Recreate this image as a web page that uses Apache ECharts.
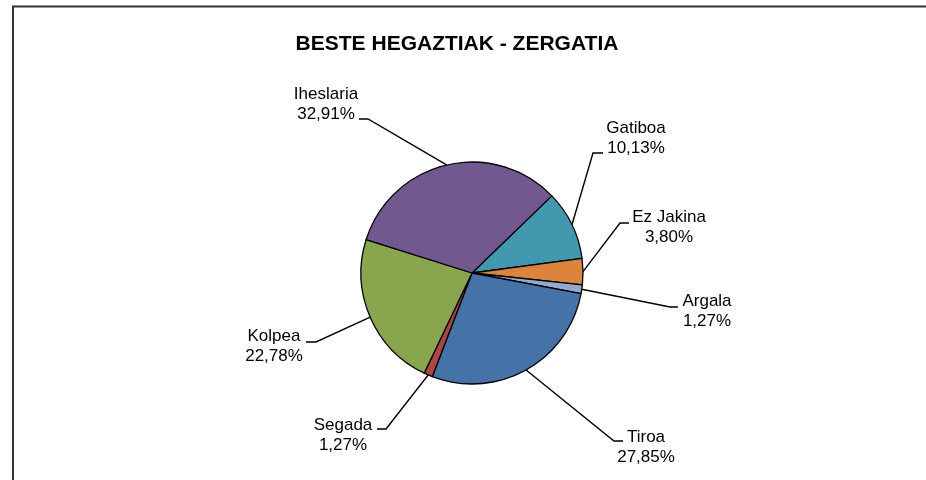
<!DOCTYPE html>
<html>
<head>
<meta charset="utf-8">
<script src="https://cdn.jsdelivr.net/npm/echarts@6/dist/echarts.min.js"></script>
<style>html,body{margin:0;padding:0;background:#fff}#c{width:926px;height:480px}</style>
</head>
<body>
<div id="c"></div>
<script>
// ---- data ----
const categories = ['Gatiboa', 'Ez Jakina', 'Argala', 'Tiroa', 'Segada', 'Kolpea', 'Iheslaria'];
const percentages = [10.13, 3.80, 1.27, 27.85, 1.27, 22.78, 32.91];
const titleText = 'BESTE HEGAZTIAK - ZERGATIA';

// ---- style ----
const colors = ['#4198AF', '#DB843D', '#93A9CF', '#4572A7', '#AA4643', '#89A54E', '#71588F'];
// label block centre and leader bend/end points (label placement only)
const labelPlace = [
  { x: 636, y: 138, bend: [593, 153], end: [603, 153] },
  { x: 669, y: 227, bend: [620, 223], end: [629, 223] },
  { x: 707, y: 311, bend: [670, 307], end: [678, 307] },
  { x: 646, y: 447, bend: [614, 441], end: [623, 441] },
  { x: 343, y: 435, bend: [386, 429], end: [377, 429] },
  { x: 274, y: 346, bend: [316, 342], end: [306, 342] },
  { x: 326, y: 104, bend: [368, 119], end: [359, 119] }
];

const chart = echarts.init(document.getElementById('c'), null, { renderer: 'canvas' });
chart.setOption({
  animation: false,
  backgroundColor: '#ffffff',
  graphic: [{
    type: 'rect',
    shape: { x: 13, y: 6.5, width: 1000, height: 1000 },
    style: { fill: 'none', stroke: '#333', lineWidth: 2 },
    z: 0
  }],
  title: {
    text: titleText,
    left: 452, top: 29,
    textAlign: 'center',
    textStyle: { fontFamily: 'Liberation Sans', fontWeight: 'bold', fontSize: 21, color: '#000' }
  },
  series: [{
    type: 'pie',
    center: [472, 273],
    radius: [0, 111],
    startAngle: 44,
    clockwise: true,
    avoidLabelOverlap: false,
    itemStyle: { borderColor: '#000', borderWidth: 1.3 },
    label: {
      show: true,
      position: 'outside',
      fontFamily: 'Liberation Sans',
      fontSize: 17,
      lineHeight: 20,
      color: '#000',
      align: 'center',
      formatter: function (p) {
        return p.name + '\n' + p.value.toFixed(2).replace('.', ',') + '%';
      }
    },
    labelLine: { show: true, length: 20, length2: 10, smooth: false, lineStyle: { color: '#000', width: 1.4 } },
    labelLayout: function (p) {
      const L = labelPlace[p.dataIndex];
      const start = p.labelLinePoints ? p.labelLinePoints[0] : L.bend;
      return {
        x: L.x, y: L.y, align: 'center', verticalAlign: 'middle',
        labelLinePoints: [start, L.bend, L.end]
      };
    },
    data: categories.map(function (c, i) {
      return { name: c, value: percentages[i], itemStyle: { color: colors[i] } };
    })
  }]
});
</script>
</body>
</html>
